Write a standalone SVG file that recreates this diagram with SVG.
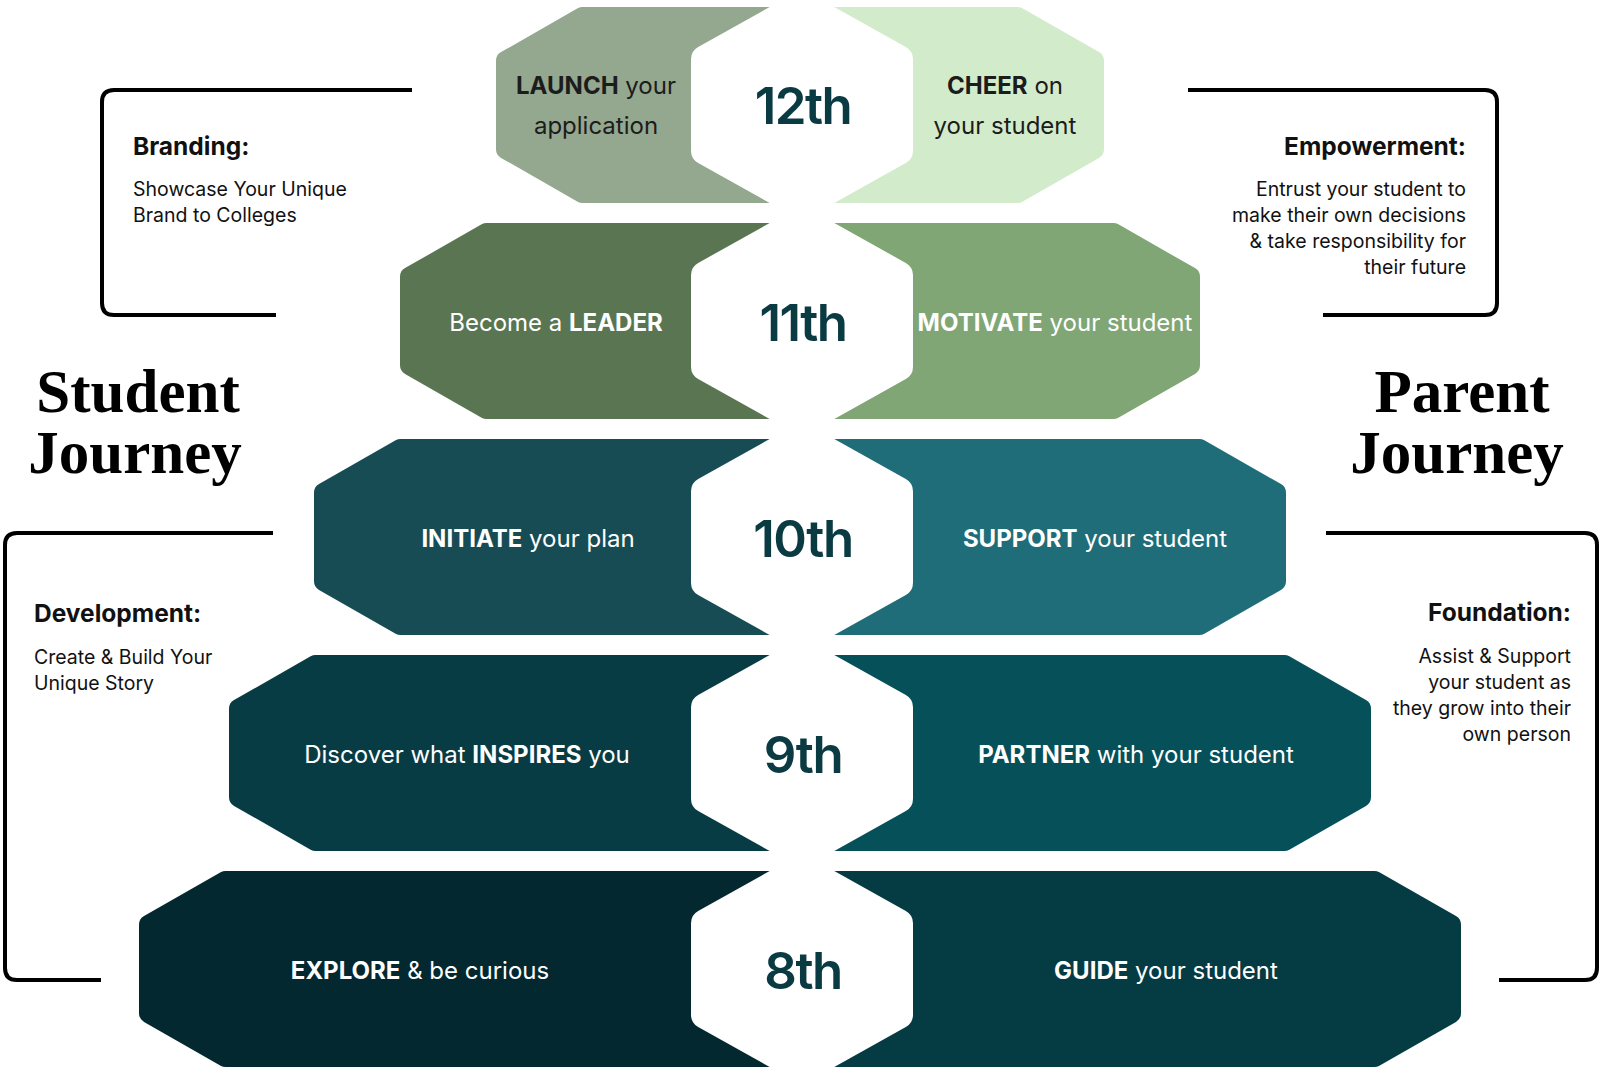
<svg xmlns="http://www.w3.org/2000/svg" width="1600" height="1076" viewBox="0 0 1600 1076">
  <style>
    .half { stroke-width: 20; stroke-linejoin: round; }
    .hex { fill: #ffffff; stroke: #ffffff; stroke-width: 28; stroke-linejoin: round; }
    .num { font-family: Inter, "Liberation Sans", sans-serif; font-weight: 600; font-size: 51px; fill: #0a3a42; text-anchor: middle; letter-spacing: -1.5px; }
    .lbl { font-family: Inter, "Liberation Sans", sans-serif; font-weight: 400; font-size: 24px; text-anchor: middle; }
    .lbl .b { font-weight: 700; }
    .light { fill: #ffffff; }
    .dark { fill: #1c1c1c; }
    .bracket { fill: none; stroke: #000000; stroke-width: 4; }
    .head { font-family: Inter, "Liberation Sans", sans-serif; font-weight: 700; font-size: 24.5px; fill: #111111; }
    .desc { font-family: Inter, "Liberation Sans", sans-serif; font-weight: 400; font-size: 19.5px; fill: #111111; }
    .title { font-family: "Liberation Serif", "Times New Roman", serif; font-weight: 700; font-size: 61px; fill: #000000; text-anchor: middle; }
  </style>
  <defs>
    <polygon id="hexshape" points="0,-100 97,-45.8 97,45.8 0,100 -97,45.8 -97,-45.8"/>
  </defs>

  <g id="connectors">
    <path class="bracket" d="M412,90 H114 Q102,90 102,102 V303 Q102,315 114,315 H276"/>
    <path class="bracket" d="M1188,90 H1485 Q1497,90 1497,102 V303 Q1497,315 1485,315 H1323"/>
    <path class="bracket" d="M273,533 H17 Q5,533 5,545 V968 Q5,980 17,980 H101"/>
    <path class="bracket" d="M1326,533 H1585 Q1597,533 1597,545 V968 Q1597,980 1585,980 H1499"/>
  </g>

  <g id="row-12th">
    <polygon class="half" fill="#94a78f" stroke="#94a78f" points="800,17 582.6,17 506,60.8 506,149.2 582.6,193 800,193"/>
    <polygon class="half" fill="#d2ebcb" stroke="#d2ebcb" points="800,17 1017.4,17 1094,60.8 1094,149.2 1017.4,193 800,193"/>
    <use href="#hexshape" class="hex" transform="translate(802,105)"/>
    <text class="num" x="803" y="124">12th</text>
    <text class="lbl dark" x="596" y="94"><tspan class="b">LAUNCH</tspan> your</text>
    <text class="lbl dark" x="596" y="134">application</text>
    <text class="lbl dark" x="1005" y="94"><tspan class="b">CHEER</tspan> on</text>
    <text class="lbl dark" x="1005" y="134">your student</text>
  </g>

  <g id="row-11th">
    <polygon class="half" fill="#5a7551" stroke="#5a7551" points="800,233 486.6,233 410,276.8 410,365.2 486.6,409 800,409"/>
    <polygon class="half" fill="#80a675" stroke="#80a675" points="800,233 1113.4,233 1190,276.8 1190,365.2 1113.4,409 800,409"/>
    <use href="#hexshape" class="hex" transform="translate(802,321)"/>
    <text class="num" x="803" y="341">11th</text>
    <text class="lbl light" x="556" y="331">Become a <tspan class="b">LEADER</tspan></text>
    <text class="lbl light" x="1055" y="331"><tspan class="b">MOTIVATE</tspan> your student</text>
  </g>

  <g id="row-10th">
    <polygon class="half" fill="#174c55" stroke="#174c55" points="800,449 400.6,449 324,492.8 324,581.2 400.6,625 800,625"/>
    <polygon class="half" fill="#1f6d78" stroke="#1f6d78" points="800,449 1199.4,449 1276,492.8 1276,581.2 1199.4,625 800,625"/>
    <use href="#hexshape" class="hex" transform="translate(802,537)"/>
    <text class="num" x="803" y="557">10th</text>
    <text class="lbl light" x="528" y="547"><tspan class="b">INITIATE</tspan> your plan</text>
    <text class="lbl light" x="1095" y="547"><tspan class="b">SUPPORT</tspan> your student</text>
  </g>

  <g id="row-9th">
    <polygon class="half" fill="#083c44" stroke="#083c44" points="800,665 315.6,665 239,708.8 239,797.2 315.6,841 800,841"/>
    <polygon class="half" fill="#06505a" stroke="#06505a" points="800,665 1284.4,665 1361,708.8 1361,797.2 1284.4,841 800,841"/>
    <use href="#hexshape" class="hex" transform="translate(802,753)"/>
    <text class="num" x="803" y="773">9th</text>
    <text class="lbl light" x="467" y="763">Discover what <tspan class="b">INSPIRES</tspan> you</text>
    <text class="lbl light" x="1136" y="763"><tspan class="b">PARTNER</tspan> with your student</text>
  </g>

  <g id="row-8th">
    <polygon class="half" fill="#04282f" stroke="#04282f" points="800,881 225.6,881 149,924.8 149,1013.2 225.6,1057 800,1057"/>
    <polygon class="half" fill="#053b43" stroke="#053b43" points="800,881 1374.4,881 1451,924.8 1451,1013.2 1374.4,1057 800,1057"/>
    <use href="#hexshape" class="hex" transform="translate(802,969)"/>
    <text class="num" x="803" y="989">8th</text>
    <text class="lbl light" x="420" y="979"><tspan class="b">EXPLORE</tspan> &amp; be curious</text>
    <text class="lbl light" x="1166" y="979"><tspan class="b">GUIDE</tspan> your student</text>
  </g>

  <g id="student-journey">
    <text class="title" x="138" y="412">Student</text>
    <text class="title" x="135" y="473">Journey</text>
  </g>
  <g id="parent-journey">
    <text class="title" x="1462" y="412">Parent</text>
    <text class="title" x="1457" y="473">Journey</text>
  </g>

  <g id="branding">
    <text class="head" x="133" y="155">Branding:</text>
    <text class="desc" x="133" y="196">Showcase Your Unique</text>
    <text class="desc" x="133" y="222">Brand to Colleges</text>
  </g>
  <g id="empowerment" text-anchor="end">
    <text class="head" x="1466" y="155">Empowerment:</text>
    <text class="desc" x="1466" y="196">Entrust your student to</text>
    <text class="desc" x="1466" y="222">make their own decisions</text>
    <text class="desc" x="1466" y="248">&amp; take responsibility for</text>
    <text class="desc" x="1466" y="274">their future</text>
  </g>
  <g id="development">
    <text class="head" x="34" y="622">Development:</text>
    <text class="desc" x="34" y="664">Create &amp; Build Your</text>
    <text class="desc" x="34" y="690">Unique Story</text>
  </g>
  <g id="foundation" text-anchor="end">
    <text class="head" x="1571" y="621">Foundation:</text>
    <text class="desc" x="1571" y="663">Assist &amp; Support</text>
    <text class="desc" x="1571" y="689">your student as</text>
    <text class="desc" x="1571" y="715">they grow into their</text>
    <text class="desc" x="1571" y="741">own person</text>
  </g>
</svg>
